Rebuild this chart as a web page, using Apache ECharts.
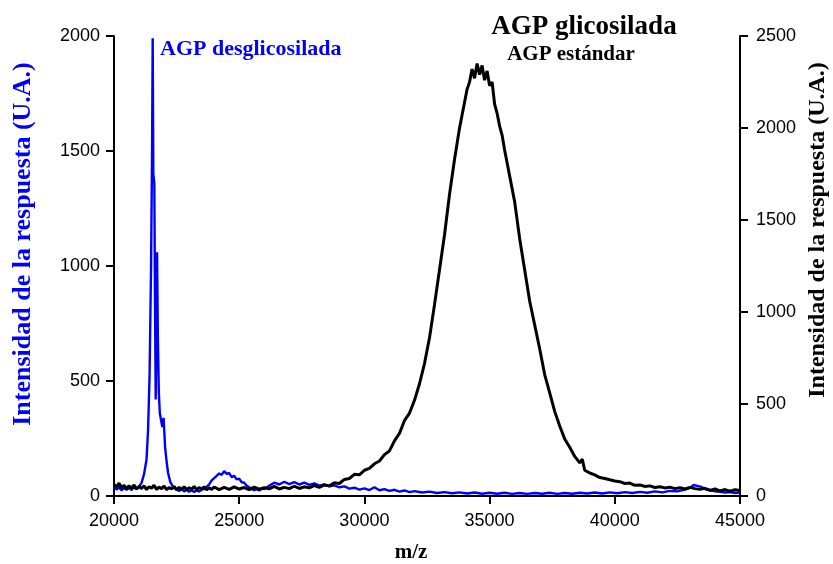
<!DOCTYPE html>
<html>
<head>
<meta charset="utf-8">
<script src="https://cdn.jsdelivr.net/npm/echarts@6/dist/echarts.min.js"></script>
<style>html,body{margin:0;padding:0;background:#fff}#c{width:833px;height:564px}</style>
</head>
<body>
<div id="c"></div>
<script>
// m/z ticks
var xTicks = [20000, 25000, 30000, 35000, 40000, 45000];
var leftTicks = [0, 500, 1000, 1500, 2000];
var rightTicks = [0, 500, 1000, 1500, 2000, 2500];

// AGP desglicosilada (left axis)
var desglMz = [20000,20100,20200,20300,20400,20500,20600,20700,20800,20900,21000,21100,21200,21300,21360,21420,21480,21520,21545,21570,21610,21640,21665,21700,21720,21750,21790,21830,21880,21930,21980,22040,22100,22160,22250,22360,22500,22600,22700,22800,22900,23000,23100,23200,23300,23400,23500,23600,23700,23800,23900,24000,24100,24200,24300,24400,24500,24600,24700,24800,24900,25000,25100,25200,25300,25400,25500,25600,25700,25800,25900,26000,26200,26400,26600,26800,27000,27200,27400,27600,27800,28000,28200,28400,28600,28800,29000,29200,29400,29600,29800,30000,30200,30400,30600,30800,31000,31200,31400,31600,31800,32000,32300,32600,32900,33200,33500,33800,34100,34400,34700,35000,35300,35600,35900,36200,36500,36800,37100,37400,37700,38000,38300,38600,38900,39200,39500,39800,40100,40400,40700,41000,41300,41600,41900,42200,42500,42800,43000,43150,43300,43450,43600,43800,44000,44200,44400,44600,44800,45000];
var desglInt = [40,28,38,25,35,27,36,26,38,30,42,57,95,160,287,520,1000,1500,1990,1400,1360,800,420,800,1060,700,450,360,355,300,340,213,150,100,60,39,28,22,30,20,26,18,25,17,24,19,28,30,40,50,68,78,88,98,92,108,96,100,82,88,72,75,60,58,45,38,30,25,30,24,32,30,45,58,50,62,52,60,50,58,48,55,45,50,42,46,38,42,32,36,28,33,26,38,25,30,22,27,19,24,17,21,15,19,13,17,12,16,11,15,10,14,10,14,9,13,9,13,10,14,9,13,10,14,11,15,11,16,12,17,13,18,14,20,16,22,20,28,35,48,44,40,30,26,20,18,15,17,13,15];

// AGP glicosilada / estándar (right axis)
var glicMz = [20000,20100,20200,20300,20400,20500,20600,20700,20800,20900,21000,21100,21200,21300,21400,21500,21600,21700,21800,21900,22000,22100,22200,22300,22400,22500,22600,22700,22800,22900,23000,23100,23200,23300,23400,23500,23600,23700,23800,23900,24000,24200,24400,24600,24800,25000,25200,25400,25600,25800,26000,26200,26400,26600,26800,27000,27200,27400,27600,27800,28000,28200,28400,28600,28800,29000,29200,29400,29600,29800,30000,30200,30400,30600,30800,31000,31200,31400,31600,31800,32000,32200,32400,32600,32800,33000,33200,33400,33600,33800,34000,34100,34200,34300,34400,34500,34600,34700,34800,34900,35000,35100,35200,35300,35400,35500,35600,35800,36000,36200,36400,36600,36800,37000,37200,37400,37600,37800,38000,38200,38400,38600,38700,38800,39000,39200,39400,39600,39800,40000,40200,40400,40600,40800,41000,41200,41400,41600,41800,42000,42200,42400,42600,42800,43000,43200,43400,43600,43800,44000,44200,44400,44600,44800,45000];
var glicInt = [62,48,70,45,58,40,55,42,60,38,52,40,56,35,50,42,58,36,48,40,54,34,46,38,52,33,47,36,50,34,45,37,52,33,46,38,50,34,44,36,49,35,47,36,50,38,46,34,48,37,45,39,52,38,47,40,53,41,50,44,57,47,60,55,72,68,90,95,118,115,140,150,175,190,225,245,300,340,410,450,520,610,720,860,1040,1230,1420,1640,1830,2000,2140,2210,2250,2320,2270,2350,2290,2340,2260,2310,2230,2250,2130,2080,2010,1960,1880,1740,1600,1400,1230,1060,930,800,660,560,460,380,310,265,215,180,200,140,125,115,100,95,88,82,78,68,70,58,60,52,55,46,50,44,48,40,45,38,47,40,36,42,30,38,28,35,26,34,30];

function pairs(xs, ys){ var o=[]; for(var i=0;i<xs.length;i++) o.push([xs[i], ys[i]]); return o; }
function plain(v){ return String(v); }

var chart = echarts.init(document.getElementById('c'), null, {renderer:'canvas'});
var sans = 'Liberation Sans, Arial, sans-serif';
var serif = 'Liberation Serif, Times New Roman, serif';
var axisLine = {show:true, onZero:false, lineStyle:{color:'#000', width:2}};
chart.setOption({
  animation:false,
  backgroundColor:'#fff',
  grid:{left:114, right:93, top:36, bottom:68},
  xAxis:{type:'value', min:xTicks[0], max:xTicks[xTicks.length-1], interval:5000,
    axisLine:axisLine, axisTick:{show:true, length:8, lineStyle:{color:'#000', width:2}},
    axisLabel:{color:'#000', fontSize:18, fontFamily:sans, margin:16, formatter:plain}, splitLine:{show:false}},
  yAxis:[
    {type:'value', position:'left', min:leftTicks[0], max:leftTicks[leftTicks.length-1], interval:500,
     axisLine:axisLine, axisTick:{show:true, length:8, lineStyle:{color:'#000', width:2}},
     axisLabel:{color:'#000', fontSize:18, fontFamily:sans, margin:14, formatter:plain}, splitLine:{show:false}},
    {type:'value', position:'right', min:rightTicks[0], max:rightTicks[rightTicks.length-1], interval:500,
     axisLine:axisLine, axisTick:{show:true, length:8, lineStyle:{color:'#000', width:2}},
     axisLabel:{color:'#000', fontSize:18, fontFamily:sans, margin:16, formatter:plain}, splitLine:{show:false}}
  ],
  series:[
    {name:'AGP desglicosilada', type:'line', yAxisIndex:0, data:pairs(desglMz, desglInt), showSymbol:false, symbol:'none',
     lineStyle:{color:'#0000ff', width:2.4}, itemStyle:{color:'#0000ff'}, z:2},
    {name:'AGP glicosilada', type:'line', yAxisIndex:1, data:pairs(glicMz, glicInt), showSymbol:false, symbol:'none',
     lineStyle:{color:'#000', width:3}, itemStyle:{color:'#000'}, z:3}
  ],
  graphic:[
    {type:'text', left:160, top:38, style:{text:'AGP desglicosilada', fill:'#0000ff', font:'bold 22px '+serif}},
    {type:'text', x:584, y:27, style:{text:'AGP glicosilada', fill:'#000', font:'bold 27px '+serif, align:'center', verticalAlign:'middle'}},
    {type:'text', x:571, y:55, style:{text:'AGP estándar', fill:'#000', font:'bold 21px '+serif, align:'center', verticalAlign:'middle'}},
    {type:'text', x:23, y:244, rotation:Math.PI/2, style:{text:'Intensidad de la respuesta (U.A.)', fill:'#0000ff', font:'bold 26px '+serif, align:'center', verticalAlign:'middle'}},
    {type:'text', x:818, y:230, rotation:Math.PI/2, style:{text:'Intensidad de la respuesta (U.A.)', fill:'#000', font:'bold 24px '+serif, align:'center', verticalAlign:'middle'}},
    {type:'text', x:411, y:553, style:{text:'m/z', fill:'#000', font:'bold 21px '+serif, align:'center', verticalAlign:'middle'}}
  ]
});
</script>
</body>
</html>
